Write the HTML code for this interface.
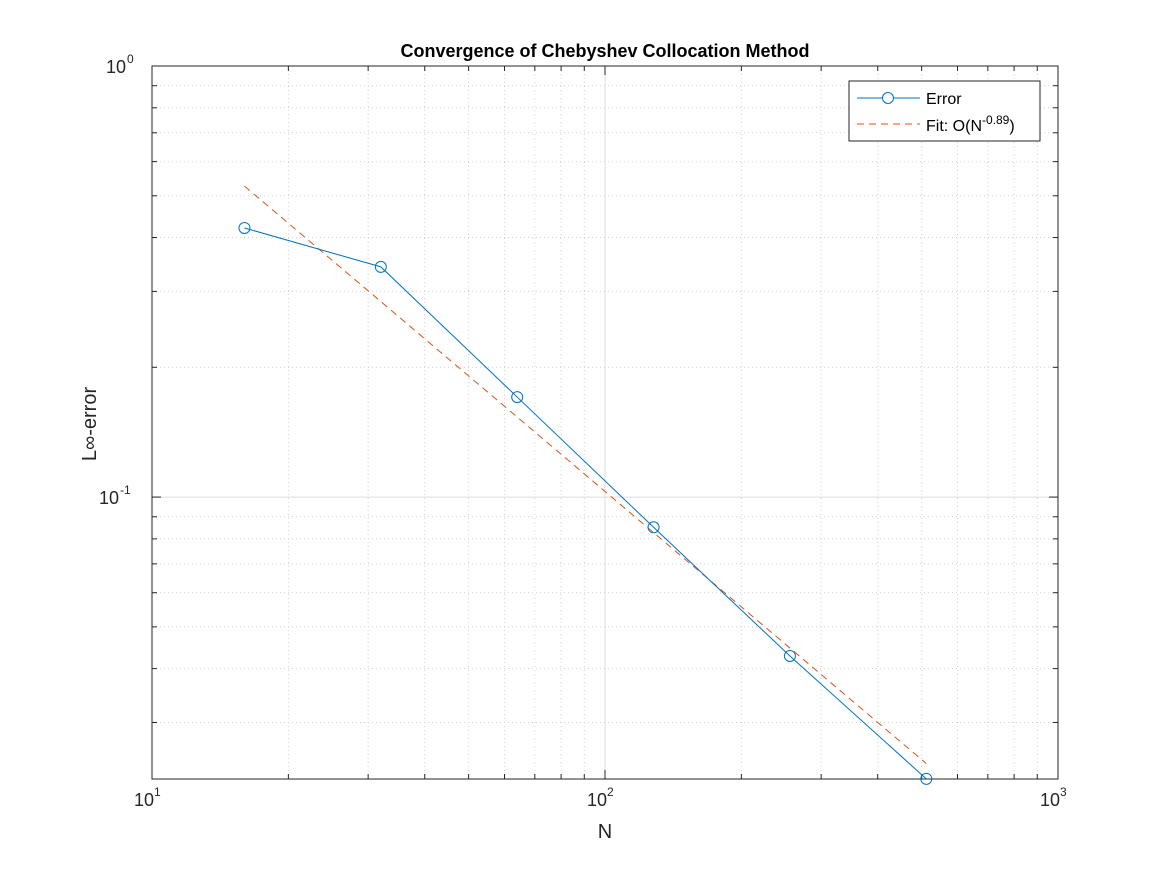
<!DOCTYPE html>
<html><head><meta charset="utf-8"><style>
body{margin:0;background:#fff;}
svg{display:block;font-family:"Liberation Sans",Arial,sans-serif;}
</style></head><body>
<svg id="chart" width="1167" height="875" viewBox="0 0 1167 875"></svg>
<script>
const nValues=[16,32,64,128,256,512];
const errorValues=[0.421,0.342,0.1706,0.0851,0.0428,0.0222];
const fitRate=-0.89;
const fitCoef=6.21;
const xTickLabels=["10","10","10"];
const xTickExps=["1","2","3"];
const yTickExps=["-1","0"];

const L=152,R=1058,T=66,B=779;
const xMin=1,xMax=3,yMin=-1.654,yMax=0;
const X=v=>L+(Math.log10(v)-xMin)/(xMax-xMin)*(R-L);
const Y=v=>T+(yMax-Math.log10(v))/(yMax-yMin)*(B-T);
const svg=document.getElementById('chart');
const NS='http://www.w3.org/2000/svg';
function mk(tag,attrs,parent){const e=document.createElementNS(NS,tag);for(const k in attrs)e.setAttribute(k,attrs[k]);(parent||svg).appendChild(e);return e;}

let g=mk('rect',{x:L,y:T,width:R-L,height:B-T,fill:'#fff'});


const grid=mk('g',{});


for(let d=1;d<3;d++)for(let m=1;m<10;m++){const v=m*Math.pow(10,d);const x=X(v);
 if(m===1&&d===1)continue;
 mk('line',{x1:x,x2:x,y1:T,y2:B,stroke:m===1?'#dcdcdc':'#d0d0d0','stroke-dasharray':m===1?'none':'1,3','stroke-width':1},grid);
 mk('line',{x1:x,x2:x,y1:B,y2:B-(m===1?9:5),stroke:'#262626'},grid);
 mk('line',{x1:x,x2:x,y1:T,y2:T+(m===1?9:5),stroke:'#262626'},grid);}
for(let d=-2;d<1;d++)for(let m=1;m<10;m++){const v=m*Math.pow(10,d);const lv=Math.log10(v);if(lv<yMin||lv>=0)continue;const y=Y(v);
 mk('line',{x1:L,x2:R,y1:y,y2:y,stroke:m===1?'#dcdcdc':'#d0d0d0','stroke-dasharray':m===1?'none':'1,3'},grid);
 mk('line',{x1:L,x2:L+(m===1?9:5),y1:y,y2:y,stroke:'#262626'},grid);
 mk('line',{x1:R,x2:R-(m===1?9:5),y1:y,y2:y,stroke:'#262626'},grid);}
g=mk('rect',{x:L,y:T,width:R-L,height:B-T,fill:'none',stroke:'#262626','stroke-width':1});


xTickExps.forEach((e,i)=>{const x=X(Math.pow(10,+e));
 const t=mk('text',{x:x-18,y:806,'font-size':18,fill:'#262626'});
 
 
 t.textContent=xTickLabels[i];
 const s=mk('text',{x:x+2,y:796,'font-size':12,fill:'#262626'},svg);s.textContent=e;});
yTickExps.forEach(e=>{const y=Y(Math.pow(10,+e));
 const t=mk('text',{x:e==='0'?126:119,y:y+7,'font-size':18,'text-anchor':'end',fill:'#262626'});
 
 
 t.textContent='10';
 const s=mk('text',{x:e==='0'?127:120,y:y-3,'font-size':12,fill:'#262626'});s.textContent=e;});
g=mk('text',{x:605,y:57,'font-size':18,'font-weight':'bold','text-anchor':'middle',fill:'#000'});


g.textContent='Convergence of Chebyshev Collocation Method';
g=mk('text',{x:605,y:838,'font-size':20,'text-anchor':'middle',fill:'#262626'});


g.textContent='N';
g=mk('text',{x:0,y:0,'font-size':20,'text-anchor':'middle',fill:'#262626',transform:'translate(96,424) rotate(-90)'});


g.textContent='L∞-error';
const f0=nValues[0],f1=nValues[nValues.length-1];
g=mk('line',{x1:X(f0),y1:Y(fitCoef*Math.pow(f0,fitRate)),x2:X(f1),y2:Y(fitCoef*Math.pow(f1,fitRate)),stroke:'#d95319','stroke-dasharray':'7,5','stroke-width':1});


g=mk('polyline',{points:nValues.map((n,i)=>X(n)+','+Y(errorValues[i])).join(' '),fill:'none',stroke:'#0072bd','stroke-width':1});


nValues.forEach((n,i)=>{const c=mk('circle',{cx:X(n),cy:Y(errorValues[i]),r:5.5,fill:'none',stroke:'#0072bd','stroke-width':1});
 
 });
const lg=mk('g',{});


mk('rect',{x:849,y:81,width:191,height:60,fill:'#fff',stroke:'#262626'},lg);
mk('line',{x1:857,x2:920,y1:98,y2:98,stroke:'#0072bd'},lg);
mk('circle',{cx:888,cy:98,r:5.5,fill:'#fff',stroke:'#0072bd'},lg);
let t=mk('text',{x:926,y:104,'font-size':16,fill:'#000'},lg);t.textContent='Error';


mk('line',{x1:857,x2:920,y1:124,y2:124,stroke:'#d95319','stroke-dasharray':'7,5'},lg);
t=mk('text',{x:926,y:131,'font-size':16,fill:'#000'},lg);


t.innerHTML='Fit: O(N<tspan dy="-7" font-size="12">-0.89</tspan><tspan dy="7">)</tspan>';
</script>
</body></html>
